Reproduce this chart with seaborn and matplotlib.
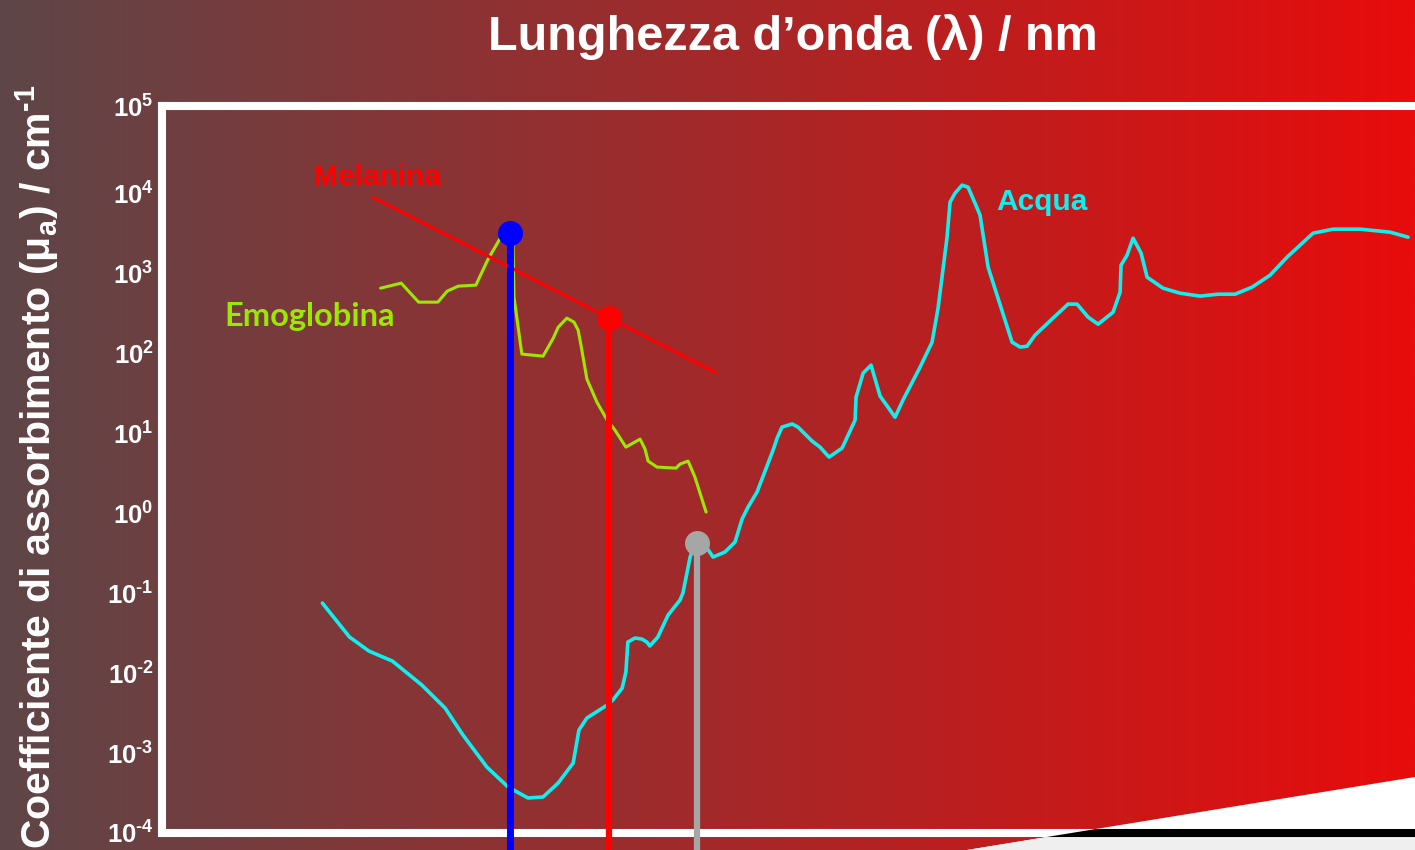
import numpy as np
import pandas as pd
import matplotlib
matplotlib.use("Agg")
import matplotlib.pyplot as plt
from matplotlib.colors import LinearSegmentedColormap
from matplotlib.patches import Polygon
from matplotlib.ticker import NullLocator
import seaborn as sns

# wavelength (nm) / absorption coefficient (cm^-1)
hb_nm = [252, 275, 296, 321, 334, 350, 377, 397, 418, 432, 441, 443, 458, 501, 523, 534,
         554, 571, 581, 588, 603, 629, 657, 679, 711, 755, 771, 781, 811, 879, 894, 925,
         952, 998]
hb_mua = [649, 750, 434, 434, 596, 688, 708, 1496, 2738, 3652, 2585, 501, 97.2, 91.7, 154, 211,
          274, 244, 194, 126, 47.3, 24.4, 14.5, 10.9, 6.68, 8.41, 6.31, 4.47, 3.76, 3.65, 4.10, 4.47,
          2.82, 1.03]

water_nm = [197, 221, 240, 265, 300, 331, 357, 395, 432, 470,
            501, 534, 569, 583, 603, 657, 673, 700, 711, 714,
            717, 739, 761, 777, 787, 814, 850, 894, 905, 933,
            945, 973, 1002, 1028, 1081, 1128, 1162, 1192, 1238, 1325,
            1348, 1376, 1436, 1472, 1563, 1616, 1679, 1774, 1874, 1882,
            1939, 2005, 2083, 2154, 2219, 2295, 2467, 2595, 2662, 2765,
            2800, 2860, 2946, 3022, 3112, 3179, 3289, 3640, 3766, 3878,
            4011, 4328, 4612, 4791, 5020, 5236, 5580, 5747, 5771, 5920,
            6072, 6281, 6442, 6891, 7405, 8060, 8698, 9346, 10042, 10837,
            11645, 12997, 14147, 15856, 17998, 19422]
water_mua = [0.0750, 0.0282, 0.0188, 0.0141, 0.00708, 0.00365, 0.00168, 0.000668, 0.000376, 0.000274,
             0.000282, 0.000422, 0.000750, 0.00194, 0.00274, 0.00398, 0.00460, 0.00649, 0.0103, 0.0158,
             0.0244, 0.0274, 0.0266, 0.0244, 0.0218, 0.0282, 0.0531, 0.0818, 0.1, 0.282,
             0.365, 0.43, 0.365, 0.282, 0.326, 0.434, 0.841, 1.19, 1.83, 6.13,
             8.66, 11.9, 13.0, 11.9, 7.94, 6.68, 5.01, 6.49, 14.5, 28.2,
             56.2, 70.8, 29.0, 21.1, 15.8, 25.9, 66.8, 137, 365, 2818,
             7718, 10000, 12590, 11885, 7499, 5309, 1189, 137, 119, 122,
             168, 274, 410, 410, 282, 230, 325, 579, 1259, 1679,
             2738, 1778, 891, 649, 562, 516, 546, 546, 668, 944,
             1585, 3162, 3548, 3548, 3255, 2818]

mel_nm = [244, 1036]
mel_mua = [8900, 58]

laser_nm = [436, 662, 960]
laser_mua = [3160, 274, 0.42]
laser_colors = ["#0000ff", "#ff0000", "#a6a6a6"]
laser_lw = [5.0, 4.5, 4.5]

ytick_exp = [-4, -3, -2, -1, 0, 1, 2, 3, 4]
y_top = 10 ** 5.09

hb = pd.DataFrame({"nm": hb_nm, "mua": hb_mua})
water = pd.DataFrame({"nm": water_nm, "mua": water_mua})
mel = pd.DataFrame({"nm": mel_nm, "mua": mel_mua})

sns.set_style("white")
plt.rcParams["font.family"] = ["Liberation Sans", "DejaVu Sans"]
plt.rcParams["mathtext.fontset"] = "custom"
plt.rcParams["mathtext.rm"] = "Liberation Sans:bold"
plt.rcParams["mathtext.it"] = "Liberation Sans:bold"
plt.rcParams["mathtext.bf"] = "Liberation Sans:bold"

fig = plt.figure(figsize=(14.15, 8.5), dpi=100)

# background gradient
bg = fig.add_axes([0, 0, 1, 1], zorder=0)
cmap = LinearSegmentedColormap.from_list("bg", ["#5e4648", "#e80c0c"])
bg.imshow(np.linspace(0, 1, 512)[None, :], aspect="auto", cmap=cmap, extent=[0, 1, 0, 1])
bg.axis("off")

ax = fig.add_axes([162 / 1415, 17 / 850, 1 - 162 / 1415, 727 / 850], zorder=1)
ax.set_facecolor("none")
ax.set_xscale("log")
ax.set_yscale("log")
ax.set_xlim(100, 20000)
ax.set_ylim(1e-4, y_top)

sns.lineplot(data=water, x="nm", y="mua", sort=False, estimator=None,
             color="#11eeee", lw=2.6, ax=ax, zorder=3)
sns.lineplot(data=hb, x="nm", y="mua", sort=False, estimator=None,
             color="#9be800", lw=2.2, ax=ax, zorder=3)
sns.lineplot(data=mel, x="nm", y="mua", sort=False, estimator=None,
             color="#ff0000", lw=2.2, ax=ax, zorder=3)

for x, y, c, lw in zip(laser_nm, laser_mua, laser_colors, laser_lw):
    ax.vlines(x, 1e-6, y, color=c, lw=lw, clip_on=False, zorder=4)
    ax.plot(x, y, "o", ms=18, color=c, mec="none", clip_on=False, zorder=5)

ax.text(248, 15850, "Melanina", color="#ff0000", fontsize=21.5, fontweight="bold",
        ha="center", va="center")
ax.text(187, 290, "Emoglobina", color="#9be800", fontsize=23.5, fontweight="bold",
        family=["Lato", "DejaVu Sans"], ha="center", va="center")
ax.text(4132, 7720, "Acqua", color="#11eeee", fontsize=21.5, fontweight="bold",
        ha="center", va="center")

ax.set_xlabel("")
ax.set_ylabel("")
ax.set_xticks([])
ax.xaxis.set_minor_locator(NullLocator())
ax.yaxis.set_minor_locator(NullLocator())
yt = [10.0 ** e for e in ytick_exp] + [y_top]
ylab = [r"$10^{\text{%d}}$" % e for e in ytick_exp] + [r"$10^{5}$"]
ax.set_yticks(yt, labels=ylab)
ax.tick_params(axis="y", direction="in", length=21.6, width=6.5, color="white",
               labelcolor="white", labelsize=18.5, pad=6)
for side in ["left", "top", "bottom"]:
    ax.spines[side].set_color("white")
    ax.spines[side].set_linewidth(5.8)
ax.spines["right"].set_visible(False)

# white corner shape at bottom right
ov = fig.add_axes([0, 0, 1, 1], zorder=3)
ov.set_xlim(0, 1415)
ov.set_ylim(850, 0)
ov.axis("off")
ov.patch.set_alpha(0)
tri = Polygon([(967, 850), (1415, 777), (1415, 850)], closed=True, fc="white", ec="none")
ov.add_patch(tri)
ov.add_patch(Polygon([(1047, 837), (1415, 837), (1415, 850), (967, 850)], closed=True,
                     fc="#efefef", ec="none"))
ln, = ov.plot([900, 1415], [833, 833], color="black", lw=5.8)
ln.set_clip_path(tri)

fig.text(793 / 1415, 1 - 37 / 850, "Lunghezza d’onda (λ) / nm", color="white",
         fontsize=35, fontweight="bold", ha="center", va="center")
fig.text(37 / 1415, 1 - 467 / 850,
         "Coefficiente di assorbimento (μ$_\\mathrm{a}$) / cm$^{\\text{-1}}$",
         color="white", fontsize=29.5, fontweight="bold", rotation=90, ha="center", va="center")

fig.savefig("out.png", dpi=100)
